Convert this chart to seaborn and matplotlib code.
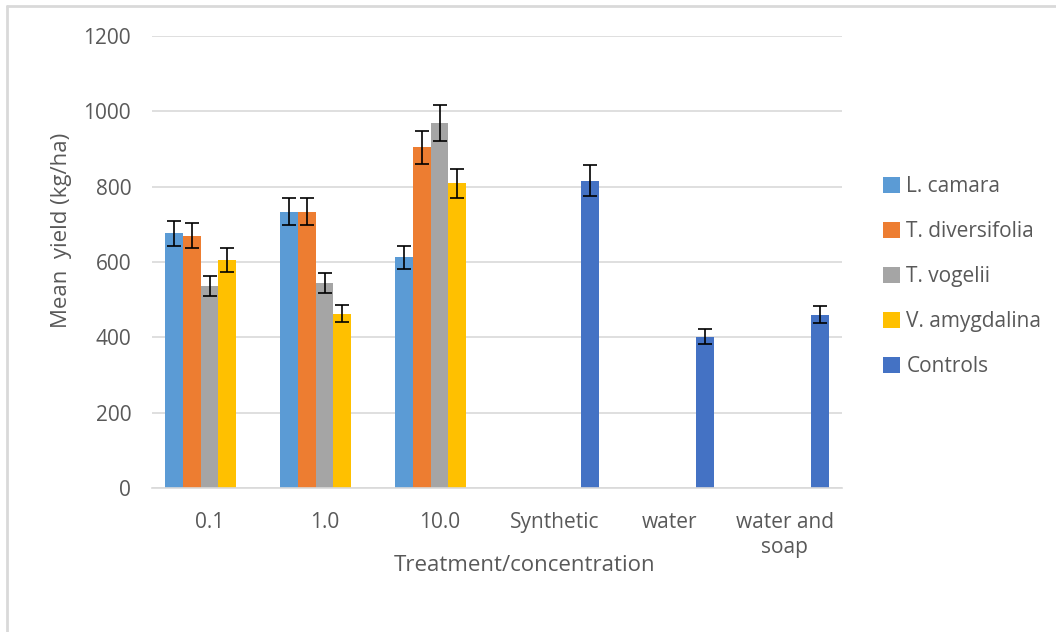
import pandas as pd
import matplotlib
matplotlib.use("Agg")
import matplotlib.pyplot as plt
import seaborn as sns
from matplotlib.lines import Line2D

# data
treatments = ["0.1", "1.0", "10.0", "Synthetic", "water", "water and\nsoap"]
series = ["L. camara", "T. diversifolia", "T. vogelii", "V. amygdalina", "Controls"]

l_camara = [676, 734, 612]
l_camara_err = [33, 37, 31]
t_diversifolia = [670, 734, 904]
t_diversifolia_err = [34, 36, 45]
t_vogelii = [537, 545, 969]
t_vogelii_err = [27, 27, 47]
v_amygdalina = [605, 463, 809]
v_amygdalina_err = [31, 23, 39]
controls = [816, 402, 460]
controls_err = [41, 21, 23]

colors = ["#5B9BD5", "#ED7D31", "#A5A5A5", "#FFC000", "#4472C4"]

# build long table
rows = []
for name, vals, errs, cats in [
    ("L. camara", l_camara, l_camara_err, treatments[:3]),
    ("T. diversifolia", t_diversifolia, t_diversifolia_err, treatments[:3]),
    ("T. vogelii", t_vogelii, t_vogelii_err, treatments[:3]),
    ("V. amygdalina", v_amygdalina, v_amygdalina_err, treatments[:3]),
    ("Controls", controls, controls_err, treatments[3:]),
]:
    for c, v, e in zip(cats, vals, errs):
        rows.append({"treatment": c, "series": name, "mean": v, "err": e})
df = pd.DataFrame(rows)

sns.set_style("white")
plt.rcParams['font.family'] = ['Open Sans', 'DejaVu Sans']
text_col = "#595959"

fig = plt.figure(figsize=(10.56, 6.32), dpi=100)
ax = fig.add_axes([152 / 1056, 1 - 488 / 632, 690 / 1056, 452 / 632])

sns.barplot(data=df, x="treatment", y="mean", hue="series",
            order=treatments, hue_order=series, palette=colors, saturation=1,
            width=0.78, errorbar=None, linewidth=0, ax=ax)

# error bars on top of each bar
for name, cont in zip(series, ax.containers):
    sub = df[df["series"] == name].set_index("treatment").reindex(
        [t for t in treatments if t in set(df.loc[df["series"] == name, "treatment"])])
    for bar, (_, r) in zip(cont, sub.iterrows()):
        ax.errorbar(bar.get_x() + bar.get_width() / 2, r["mean"], yerr=r["err"],
                    fmt="none", ecolor="black", elinewidth=1.2, capsize=5,
                    capthick=1.2)

ax.set_ylim(0, 1200)
ax.set_xlim(-0.5, len(treatments) - 0.5)
ax.set_yticks(range(0, 1201, 200))
ax.yaxis.grid(True, color="#D9D9D9", linewidth=1.2)
ax.set_axisbelow(True)
for s in ["top", "right", "left"]:
    ax.spines[s].set_visible(False)
ax.spines["bottom"].set_color("#D9D9D9")
ax.spines["bottom"].set_linewidth(1.2)
ax.tick_params(axis="both", length=0, labelsize=15, labelcolor=text_col)
ax.tick_params(axis="y", pad=15)
ax.tick_params(axis="x", pad=17)
for lab in ax.get_xticklabels():
    lab.set_linespacing(1.25)

ax.set_xlabel("Treatment/concentration", fontsize=16, color=text_col)
ax.xaxis.set_label_coords(0.54, -0.148)
ax.set_ylabel("Mean  yield (kg/ha)", fontsize=16, color=text_col)
ax.yaxis.set_label_coords(-0.116, 0.569)

handles, labels = ax.get_legend_handles_labels()
ax.legend(handles, labels, loc="upper left", bbox_to_anchor=(875 / 1056, 1 - 168 / 632),
          bbox_transform=fig.transFigure, frameon=False, fontsize=15,
          handlelength=0.8, handleheight=0.8, handletextpad=0.3,
          labelspacing=1.15, labelcolor=text_col, borderaxespad=0)

# chart frame (top and left edge)
fig.add_artist(Line2D([7 / 1056, 1], [1 - 6 / 632, 1 - 6 / 632], color="#D9D9D9", lw=2,
                      transform=fig.transFigure))
fig.add_artist(Line2D([7 / 1056, 7 / 1056], [0, 1 - 6 / 632], color="#D9D9D9", lw=2,
                      transform=fig.transFigure))

fig.savefig("out.png", dpi=100)
